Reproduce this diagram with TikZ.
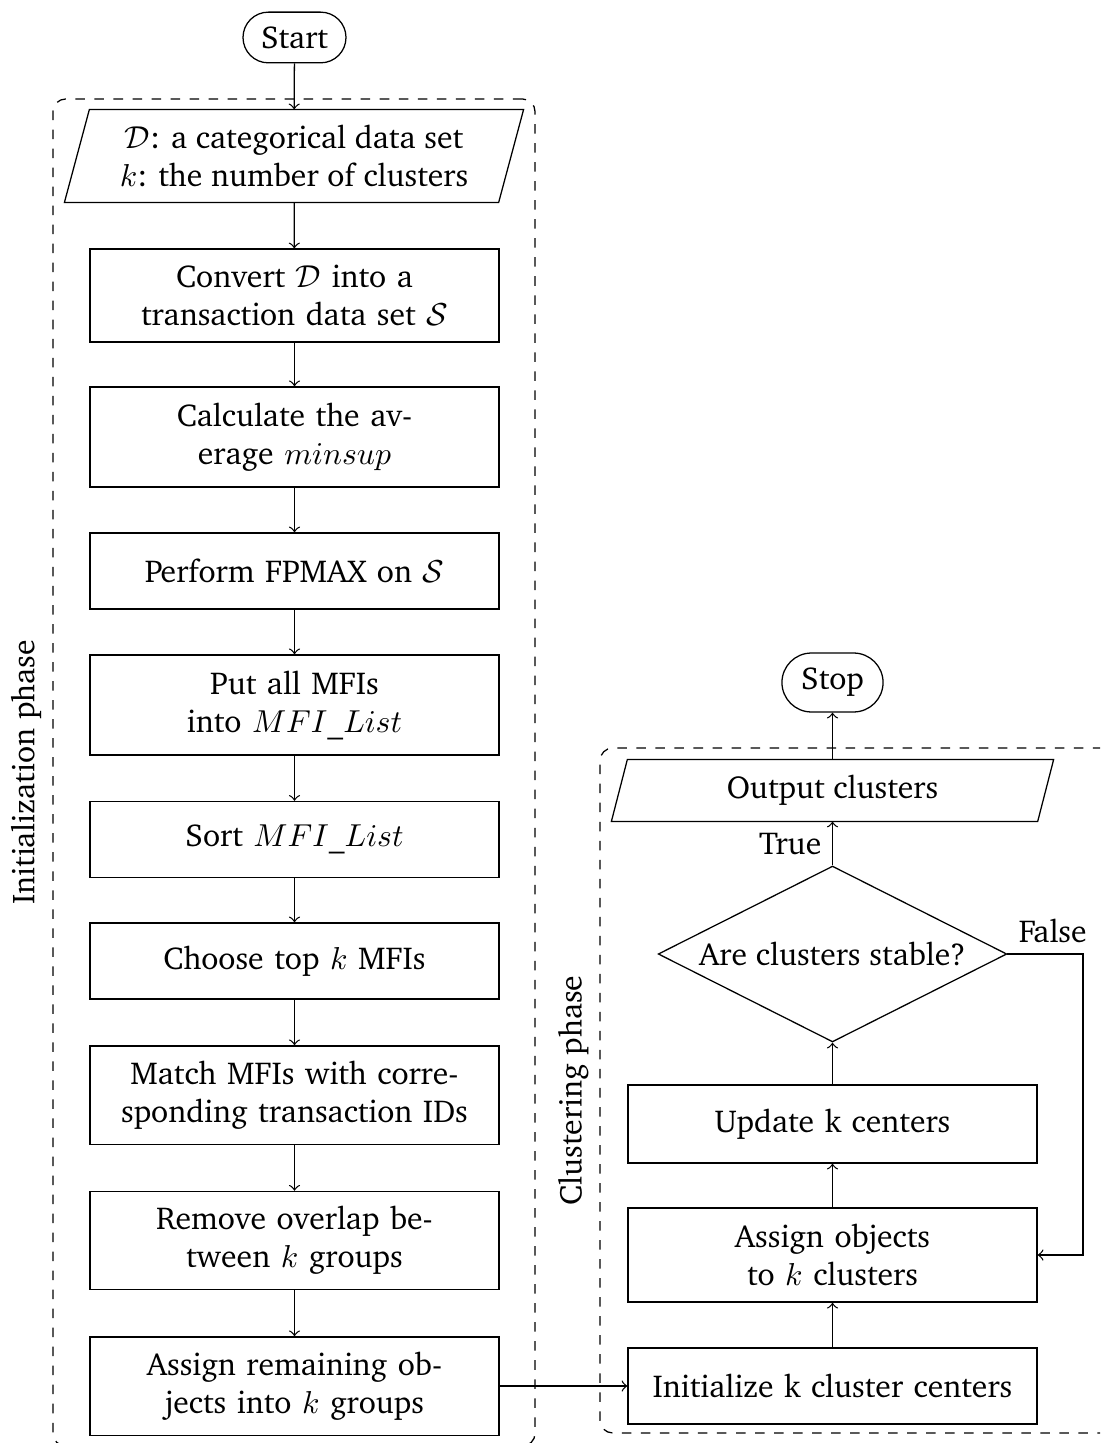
\documentclass[tikz,border=0pt]{standalone}
\usepackage[T1]{fontenc}
\usepackage{charter}
\usetikzlibrary{shapes.geometric,calc}
\begin{document}
\begin{tikzpicture}[x=0.3155pt,y=-0.3155pt,>=to,
  box/.style={draw, rectangle, minimum width=129pt, text width=122pt, align=center, inner sep=2pt, minimum height=24pt},
  boxtwo/.style={box, minimum height=31pt},
  term/.style={draw, rectangle, align=center, inner sep=2pt},
  io/.style={rectangle, align=center, inner sep=0pt},
  dec/.style={draw, diamond, aspect=2, inner sep=0pt, minimum width=110pt, minimum height=55.5pt, align=center},
  phasebox/.style={draw, dashed, rounded corners, rectangle, inner sep=0pt},
  phaselabel/.style={rotate=90, anchor=south},
  flow/.style={->}]
\useasboundingbox (0,0) rectangle (1100,1443);
\clip (0,0) rectangle (1100,1443);

% phase frames
\node[phasebox, minimum width=152.1pt, minimum height=425pt] (ibox) at (294,772.5) {};
\node[phaselabel] (ilabel) at (ibox.west) {Initialization phase};
\node[phasebox, minimum width=162.5pt, minimum height=216.1pt] (cbox) at (857.5,1090.5) {};
\node[phaselabel] (clabel) at (cbox.west) {Clustering phase};

% left column
\node[term, minimum width=32.5pt, minimum height=16pt, rounded corners=8pt] (start) at (294.5,37.5) {Start};
\node[io, minimum width=136.6pt, minimum height=29pt] (inp) at (294,156) {$\mathcal{D}$: a categorical data set\\$k$: the number of clusters};
\draw ($(inp.south west)+(-12.5,0)$) -- ($(inp.north west)+(12.5,0)$) -- ($(inp.north east)+(12.5,0)$) -- ($(inp.south east)+(-12.5,0)$) -- cycle;
\node[boxtwo, minimum height=29.3pt] (convert) at (294.5,295.5) {Convert $\mathcal{D}$ into a\\transaction data set $\mathcal{S}$};
\node[boxtwo, minimum height=31.6pt] (calc) at (294.5,437) {Calculate the av-\\erage $minsup$};
\node[box] (perform) at (294.5,571) {Perform FPMAX on $\mathcal{S}$};
\node[boxtwo, minimum height=31.6pt] (put) at (294.5,705) {Put all MFIs\\into $MFI\_List$};
\node[box] (sort) at (294.5,839.5) {Sort $MFI\_List$};
\node[box] (choose) at (294.5,961) {Choose top $k$ MFIs};
\node[boxtwo] (match) at (294.5,1095) {Match MFIs with corre-\\sponding transaction IDs};
\node[boxtwo] (remove) at (294.5,1240.5) {Remove overlap be-\\tween $k$ groups};
\node[boxtwo] (assignrem) at (294.5,1386) {Assign remaining ob-\\jects into $k$ groups};

% right column
\node[term, minimum width=31.9pt, minimum height=18.6pt, rounded corners=9.3pt] (stop) at (832.5,682.5) {Stop};
\node[io, minimum width=134.1pt, minimum height=19.2pt] (outp) at (832.5,790.5) {Output clusters};
\draw ($(outp.south west)+(-8,0)$) -- ($(outp.north west)+(8,0)$) -- ($(outp.north east)+(8,0)$) -- ($(outp.south east)+(-8,0)$) -- cycle;
\node[dec] (dia) at (832.5,954) {Are clusters stable?};
\node[box, minimum height=24.6pt] (update) at (832.5,1124) {Update k centers};
\node[boxtwo, minimum height=29.7pt] (assignobj) at (832.5,1255) {Assign objects\\to $k$ clusters};
\node[box] (init) at (832.5,1386) {Initialize k cluster centers};
\coordinate (fk) at (1083,954);

% connectors
\draw[flow] (start) -- (inp);
\draw[flow] (inp) -- (convert);
\draw[flow] (convert) -- (calc);
\draw[flow] (calc) -- (perform);
\draw[flow] (perform) -- (put);
\draw[flow] (put) -- (sort);
\draw[flow] (sort) -- (choose);
\draw[flow] (choose) -- (match);
\draw[flow] (match) -- (remove);
\draw[flow] (remove) -- (assignrem);
\draw[flow] (assignrem) -- (init);
\draw[flow] (init) -- (assignobj);
\draw[flow] (assignobj) -- (update);
\draw[flow] (update) -- (dia);
\draw[flow] (dia) -- node[left] {True} (outp);
\draw[flow] (outp) -- (stop);
\draw[flow] (dia.east) -- node[above, pos=0.6] {False} (fk) |- (assignobj.east);
\end{tikzpicture}
\end{document}
